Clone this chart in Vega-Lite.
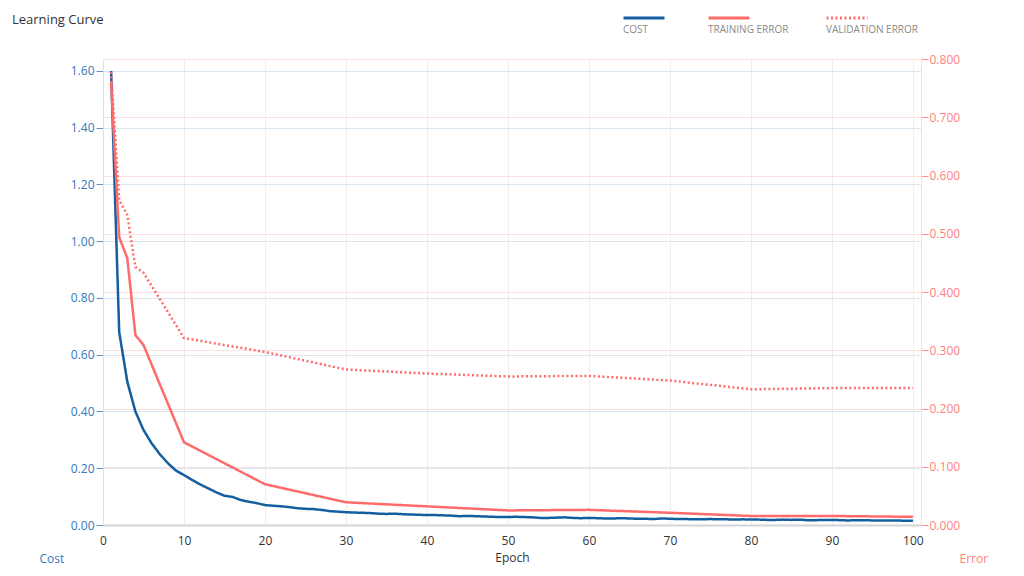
{
  "$schema": "https://vega.github.io/schema/vega-lite/v6.json",
  "width": 818,
  "height": 466,
  "autosize": "none",
  "padding": {"left": 103, "top": 59, "right": 103, "bottom": 51},
  "background": "white",
  "config": {
    "font": "Segoe UI, Open Sans, sans-serif",
    "view": {"stroke": null}
  },
  "title": {
    "text": "Learning Curve",
    "anchor": "start",
    "frame": "group",
    "dx": -91,
    "offset": -31,
    "fontSize": 13,
    "fontWeight": "normal",
    "color": "#333333"
  },
  "data": {
    "values": [
      {"epoch": 1, "series": "COST", "value": 1.6},
      {"epoch": 2, "series": "COST", "value": 0.68},
      {"epoch": 3, "series": "COST", "value": 0.505},
      {"epoch": 4, "series": "COST", "value": 0.4},
      {"epoch": 5, "series": "COST", "value": 0.335},
      {"epoch": 6, "series": "COST", "value": 0.288},
      {"epoch": 7, "series": "COST", "value": 0.25},
      {"epoch": 8, "series": "COST", "value": 0.218},
      {"epoch": 9, "series": "COST", "value": 0.192},
      {"epoch": 10, "series": "COST", "value": 0.176},
      {"epoch": 11, "series": "COST", "value": 0.159},
      {"epoch": 12, "series": "COST", "value": 0.143},
      {"epoch": 13, "series": "COST", "value": 0.129},
      {"epoch": 14, "series": "COST", "value": 0.115},
      {"epoch": 15, "series": "COST", "value": 0.103},
      {"epoch": 16, "series": "COST", "value": 0.099},
      {"epoch": 17, "series": "COST", "value": 0.088},
      {"epoch": 18, "series": "COST", "value": 0.082},
      {"epoch": 19, "series": "COST", "value": 0.077},
      {"epoch": 20, "series": "COST", "value": 0.07},
      {"epoch": 21, "series": "COST", "value": 0.068},
      {"epoch": 22, "series": "COST", "value": 0.066},
      {"epoch": 23, "series": "COST", "value": 0.063},
      {"epoch": 24, "series": "COST", "value": 0.059},
      {"epoch": 25, "series": "COST", "value": 0.057},
      {"epoch": 26, "series": "COST", "value": 0.056},
      {"epoch": 27, "series": "COST", "value": 0.053},
      {"epoch": 28, "series": "COST", "value": 0.049},
      {"epoch": 29, "series": "COST", "value": 0.047},
      {"epoch": 30, "series": "COST", "value": 0.045},
      {"epoch": 31, "series": "COST", "value": 0.044},
      {"epoch": 32, "series": "COST", "value": 0.043},
      {"epoch": 33, "series": "COST", "value": 0.042},
      {"epoch": 34, "series": "COST", "value": 0.04},
      {"epoch": 35, "series": "COST", "value": 0.039},
      {"epoch": 36, "series": "COST", "value": 0.04},
      {"epoch": 37, "series": "COST", "value": 0.038},
      {"epoch": 38, "series": "COST", "value": 0.037},
      {"epoch": 39, "series": "COST", "value": 0.036},
      {"epoch": 40, "series": "COST", "value": 0.035},
      {"epoch": 41, "series": "COST", "value": 0.035},
      {"epoch": 42, "series": "COST", "value": 0.034},
      {"epoch": 43, "series": "COST", "value": 0.033},
      {"epoch": 44, "series": "COST", "value": 0.031},
      {"epoch": 45, "series": "COST", "value": 0.032},
      {"epoch": 46, "series": "COST", "value": 0.031},
      {"epoch": 47, "series": "COST", "value": 0.03},
      {"epoch": 48, "series": "COST", "value": 0.029},
      {"epoch": 49, "series": "COST", "value": 0.028},
      {"epoch": 50, "series": "COST", "value": 0.028},
      {"epoch": 51, "series": "COST", "value": 0.029},
      {"epoch": 52, "series": "COST", "value": 0.028},
      {"epoch": 53, "series": "COST", "value": 0.027},
      {"epoch": 54, "series": "COST", "value": 0.025},
      {"epoch": 55, "series": "COST", "value": 0.025},
      {"epoch": 56, "series": "COST", "value": 0.026},
      {"epoch": 57, "series": "COST", "value": 0.027},
      {"epoch": 58, "series": "COST", "value": 0.025},
      {"epoch": 59, "series": "COST", "value": 0.024},
      {"epoch": 60, "series": "COST", "value": 0.025},
      {"epoch": 61, "series": "COST", "value": 0.024},
      {"epoch": 62, "series": "COST", "value": 0.023},
      {"epoch": 63, "series": "COST", "value": 0.023},
      {"epoch": 64, "series": "COST", "value": 0.024},
      {"epoch": 65, "series": "COST", "value": 0.023},
      {"epoch": 66, "series": "COST", "value": 0.022},
      {"epoch": 67, "series": "COST", "value": 0.022},
      {"epoch": 68, "series": "COST", "value": 0.021},
      {"epoch": 69, "series": "COST", "value": 0.023},
      {"epoch": 70, "series": "COST", "value": 0.022},
      {"epoch": 71, "series": "COST", "value": 0.021},
      {"epoch": 72, "series": "COST", "value": 0.021},
      {"epoch": 73, "series": "COST", "value": 0.02},
      {"epoch": 74, "series": "COST", "value": 0.02},
      {"epoch": 75, "series": "COST", "value": 0.021},
      {"epoch": 76, "series": "COST", "value": 0.02},
      {"epoch": 77, "series": "COST", "value": 0.02},
      {"epoch": 78, "series": "COST", "value": 0.019},
      {"epoch": 79, "series": "COST", "value": 0.02},
      {"epoch": 80, "series": "COST", "value": 0.019},
      {"epoch": 81, "series": "COST", "value": 0.019},
      {"epoch": 82, "series": "COST", "value": 0.018},
      {"epoch": 83, "series": "COST", "value": 0.018},
      {"epoch": 84, "series": "COST", "value": 0.019},
      {"epoch": 85, "series": "COST", "value": 0.018},
      {"epoch": 86, "series": "COST", "value": 0.019},
      {"epoch": 87, "series": "COST", "value": 0.017},
      {"epoch": 88, "series": "COST", "value": 0.017},
      {"epoch": 89, "series": "COST", "value": 0.018},
      {"epoch": 90, "series": "COST", "value": 0.018},
      {"epoch": 91, "series": "COST", "value": 0.017},
      {"epoch": 92, "series": "COST", "value": 0.016},
      {"epoch": 93, "series": "COST", "value": 0.017},
      {"epoch": 94, "series": "COST", "value": 0.017},
      {"epoch": 95, "series": "COST", "value": 0.016},
      {"epoch": 96, "series": "COST", "value": 0.016},
      {"epoch": 97, "series": "COST", "value": 0.016},
      {"epoch": 98, "series": "COST", "value": 0.016},
      {"epoch": 99, "series": "COST", "value": 0.015},
      {"epoch": 100, "series": "COST", "value": 0.015},
      {"epoch": 1, "series": "TRAINING ERROR", "value": 0.76},
      {"epoch": 2, "series": "TRAINING ERROR", "value": 0.494},
      {"epoch": 3, "series": "TRAINING ERROR", "value": 0.458},
      {"epoch": 4, "series": "TRAINING ERROR", "value": 0.326},
      {"epoch": 5, "series": "TRAINING ERROR", "value": 0.309},
      {"epoch": 10, "series": "TRAINING ERROR", "value": 0.142},
      {"epoch": 20, "series": "TRAINING ERROR", "value": 0.07},
      {"epoch": 30, "series": "TRAINING ERROR", "value": 0.039},
      {"epoch": 40, "series": "TRAINING ERROR", "value": 0.032},
      {"epoch": 50, "series": "TRAINING ERROR", "value": 0.025},
      {"epoch": 60, "series": "TRAINING ERROR", "value": 0.026},
      {"epoch": 70, "series": "TRAINING ERROR", "value": 0.021},
      {"epoch": 80, "series": "TRAINING ERROR", "value": 0.0155},
      {"epoch": 90, "series": "TRAINING ERROR", "value": 0.0155},
      {"epoch": 100, "series": "TRAINING ERROR", "value": 0.014},
      {"epoch": 1, "series": "VALIDATION ERROR", "value": 0.778},
      {"epoch": 2, "series": "VALIDATION ERROR", "value": 0.558},
      {"epoch": 3, "series": "VALIDATION ERROR", "value": 0.532},
      {"epoch": 4, "series": "VALIDATION ERROR", "value": 0.443},
      {"epoch": 5, "series": "VALIDATION ERROR", "value": 0.433},
      {"epoch": 10, "series": "VALIDATION ERROR", "value": 0.321},
      {"epoch": 20, "series": "VALIDATION ERROR", "value": 0.297},
      {"epoch": 30, "series": "VALIDATION ERROR", "value": 0.267},
      {"epoch": 40, "series": "VALIDATION ERROR", "value": 0.26},
      {"epoch": 50, "series": "VALIDATION ERROR", "value": 0.255},
      {"epoch": 60, "series": "VALIDATION ERROR", "value": 0.256},
      {"epoch": 70, "series": "VALIDATION ERROR", "value": 0.248},
      {"epoch": 80, "series": "VALIDATION ERROR", "value": 0.233},
      {"epoch": 90, "series": "VALIDATION ERROR", "value": 0.235},
      {"epoch": 100, "series": "VALIDATION ERROR", "value": 0.235}
    ]
  },
  "encoding": {
    "x": {
      "field": "epoch",
      "type": "quantitative",
      "title": "Epoch",
      "scale": {"domain": [0, 101], "nice": false},
      "axis": {
        "values": [0, 10, 20, 30, 40, 50, 60, 70, 80, 90, 100],
        "grid": true,
        "gridColor": "#eeeeee",
        "ticks": false,
        "labelFlush": false,
        "domainColor": "#d4d4d4",
        "domainWidth": 2,
        "labelColor": "#333333",
        "labelFontSize": 12,
        "labelPadding": 10,
        "titleColor": "#333333",
        "titleFontSize": 12,
        "titleFontWeight": "normal",
        "titlePadding": 6
      }
    },
    "color": {
      "field": "series",
      "type": "nominal",
      "scale": {
        "domain": ["COST", "TRAINING ERROR", "VALIDATION ERROR"],
        "range": ["#135e9f", "#ff6b6b", "#ff6b6b"]
      },
      "legend": {
        "title": null,
        "orient": "none",
        "legendX": 519,
        "legendY": -63,
        "direction": "horizontal",
        "symbolType": "stroke",
        "symbolSize": 1681,
        "symbolStrokeWidth": 3,
        "labelOffset": -43,
        "labelExpr": "['', datum.label]",
        "labelBaseline": "middle",
        "labelLineHeight": 20,
        "labelFontSize": 10,
        "labelColor": "#8a8a8a",
        "columnPadding": 31,
        "padding": 0
      }
    },
    "strokeDash": {
      "field": "series",
      "type": "nominal",
      "scale": {
        "domain": ["COST", "TRAINING ERROR", "VALIDATION ERROR"],
        "range": [[1, 0], [1, 0], [2, 2.5]]
      },
      "legend": null
    }
  },
  "layer": [
    {
      "transform": [{"filter": "datum.series === 'COST'"}],
      "mark": {"type": "line", "strokeWidth": 2.5},
      "encoding": {
        "y": {
          "field": "value",
          "type": "quantitative",
          "title": "Cost",
          "scale": {"domain": [0, 1.642], "nice": false},
          "axis": {
            "orient": "left",
            "values": [0, 0.2, 0.4, 0.6, 0.8, 1.0, 1.2, 1.4, 1.6],
            "format": ".2f",
            "grid": true,
            "gridColor": "#d9e6f2",
            "domainColor": "#e0e0e0",
            "tickColor": "#5f93c6",
            "tickSize": 7,
            "labelColor": "#3479ba",
            "labelFontSize": 12,
            "labelPadding": 2,
            "titleAngle": 0,
            "titleAlign": "left",
            "titleBaseline": "middle",
            "titleX": -64,
            "titleY": 499,
            "titleColor": "#3479ba",
            "titleFontSize": 12,
            "titleFontWeight": "normal"
          }
        }
      }
    },
    {
      "transform": [{"filter": "datum.series !== 'COST'"}],
      "mark": {"type": "line", "strokeWidth": 2.5},
      "encoding": {
        "y": {
          "field": "value",
          "type": "quantitative",
          "title": "Error",
          "scale": {"domain": [0, 0.8], "nice": false},
          "axis": {
            "orient": "right",
            "values": [0, 0.1, 0.2, 0.3, 0.4, 0.5, 0.6, 0.7, 0.8],
            "format": ".3f",
            "grid": true,
            "gridColor": "#ffe0e0",
            "domainColor": "#e8e8e8",
            "tickColor": "#ff9090",
            "tickSize": 7,
            "labelColor": "#ff7f7f",
            "labelFontSize": 12,
            "labelPadding": 1,
            "titleAngle": 0,
            "titleAlign": "left",
            "titleBaseline": "middle",
            "titleX": 38,
            "titleY": 499,
            "titleColor": "#ff7f7f",
            "titleFontSize": 12,
            "titleFontWeight": "normal"
          }
        }
      }
    }
  ],
  "resolve": {"scale": {"y": "independent"}}
}
